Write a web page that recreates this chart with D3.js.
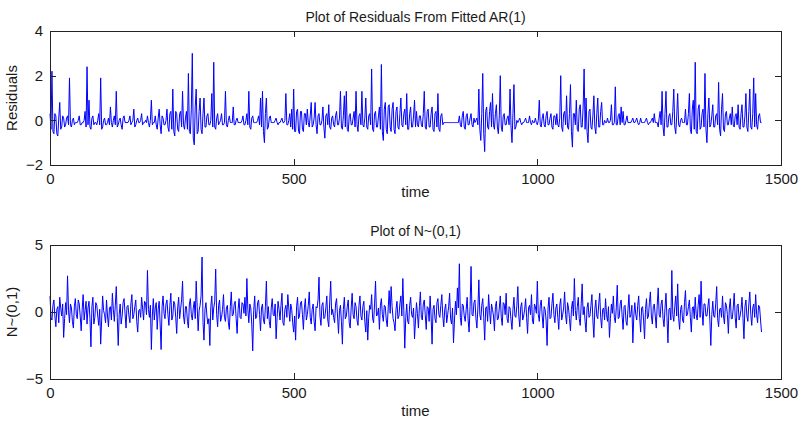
<!DOCTYPE html>
<html>
<head>
    <meta http-equiv="Content-Type" content="text/html; charset=utf-8">
    <title>Residuals From Fitted AR(1)</title>
    <style type="text/css">
        body {
            margin: 0;
            background: #fff;
        }
        text {
            font-family: "Liberation Sans", Arial, sans-serif;
            fill: #1a1a1a;
        }
        .axis path,
        .axis line {
            fill: none;
            stroke: #222;
            shape-rendering: crispEdges;
        }
    </style>
</head>
<body>
<script src="https://cdn.jsdelivr.net/npm/d3@7/dist/d3.min.js"></script>
<script>
    // residuals of the AR(1) fit, one value every 2 time steps
    var residuals = [
        0.3, -0.4, 2.2, -0.5, -0.6, 0.3, 0.2, -0.6, -0.7, 0.1, 0.8, -0.4, -0.3, 0.2, 0.1, -0.3, -0.2, 0.1, 0.2, -0.2,
        1.9, -0.2, -0.3, 0.0, 0.1, -0.2, -0.1, -0.1, -0.1, 0.0, 0.2, -0.2, -0.2, -0.1, -0.1, 0.0, 0.4, -0.3, 2.4, -0.2,
        0.9, -0.3, -0.4, 0.1, 0.2, -0.2, -0.1, -0.1, -0.2, 0.0, 0.3, -0.2, 1.9, -0.4, -0.3, 0.0, 0.1, -0.2, -0.2, -0.1,
        0.1, -0.2, 0.6, -0.1, -0.3, 0.0, 0.2, -0.2, 1.3, -0.3, -0.2, 0.0, 0.1, -0.2, -0.4, 0.1, 0.2, -0.1, -0.1, -0.1,
        -0.1, 0.0, 0.2, -0.2, -0.1, 0.0, 0.5, -0.3, -0.2, 0.0, 0.1, -0.1, -0.1, 0.0, 0.3, -0.2, -0.1, -0.1, 0.0, -0.1,
        0.2, -0.1, -0.3, 0.0, 0.9, -0.2, -0.1, -0.1, 0.2, -0.2, -0.4, 0.1, 0.5, -0.2, -0.6, 0.2, 0.1, -0.2, -0.2, 0.0,
        0.5, -0.3, -0.5, 0.3, 0.4, -0.4, 1.4, -0.5, -0.7, 0.4, 0.3, -0.4, -0.5, 0.3, 0.4, -0.3, 1.3, -0.2, -0.4, 0.1,
        0.4, -0.4, 2.1, -0.5, -0.6, 0.5, 3.0, -0.8, -1.1, 0.6, 1.4, -0.6, -0.5, 0.4, 1.0, -0.4, -0.6, 0.3, 1.0, -0.3,
        -0.3, 0.2, 0.3, -0.2, -0.2, 0.0, 1.2, -0.3, 2.6, -0.3, -0.4, 0.1, 0.3, -0.2, -0.1, 0.0, 0.3, -0.2, -0.2, -0.1,
        1.3, -0.2, -0.3, 0.0, 0.2, -0.1, -0.1, -0.1, 0.6, -0.2, -0.2, 0.0, 0.1, -0.1, -0.1, -0.1, -0.1, 0.0, 0.2, -0.2,
        -0.2, 0.0, 0.3, -0.2, 1.3, -0.3, -0.4, 0.1, 0.2, -0.1, -0.1, -0.1, -0.1, 0.0, 0.2, -0.2, 1.0, -0.3, 1.3, -0.5,
        -1.0, 0.3, 1.0, -0.4, -0.3, 0.1, 0.2, -0.1, -0.1, -0.1, -0.1, 0.0, 0.1, -0.1, -0.2, -0.1, -0.1, 0.0, 0.1, -0.1,
        -0.1, 0.0, 1.2, -0.2, -0.2, 0.0, 0.3, -0.3, 0.5, -0.4, 1.4, -0.5, -0.5, 0.4, 0.5, -0.5, -0.6, 0.4, 0.4, -0.4,
        -0.5, 0.3, 0.3, -0.2, 0.5, -0.1, -0.3, 0.2, 0.8, -0.3, -0.2, 0.1, 0.8, -0.2, -0.6, 0.2, 0.3, -0.2, -0.2, 0.0,
        0.6, -0.3, -0.8, 0.2, 0.3, -0.2, 0.7, -0.3, -0.4, 0.1, 0.2, -0.2, -0.3, 0.2, 0.4, -0.2, -0.2, 0.1, 1.3, -0.3,
        -0.4, 0.2, 1.1, -0.3, 1.3, -0.4, -0.5, 0.2, 0.3, -0.2, -0.2, 0.1, 0.4, -0.3, 1.3, -0.2, -0.5, 0.2, 0.3, -0.2,
        1.3, -0.2, -0.3, 0.1, 1.0, -0.3, -0.4, 0.2, 0.3, -0.2, 2.3, -0.4, -0.5, 0.3, 0.4, -0.3, -0.3, 0.2, 0.6, -0.4,
        2.5, -0.5, -0.9, 0.5, 0.8, -0.4, -0.6, 0.6, 0.7, -0.3, -0.5, 0.5, 0.8, -0.4, -0.6, 0.4, 0.6, -0.3, -0.4, 0.3,
        1.0, -0.2, -0.3, 0.3, 0.5, -0.2, 1.2, -0.4, -0.4, 0.3, 0.6, -0.3, -0.3, 0.2, 0.9, -0.3, 0.4, -0.2, -0.3, 0.2,
        0.2, -0.2, -0.3, 0.3, 1.3, -0.3, -0.4, 0.4, 0.5, -0.3, -0.3, 0.3, 0.6, -0.4, -0.5, 0.3, 0.4, -0.3, 1.2, -0.4,
        -0.5, 0.2, 0.3, -0.2, -0.1, -0.1, -0.1, -0.1, -0.1, -0.1, -0.1, -0.1, -0.1, -0.1, -0.1, -0.1, -0.1, -0.1, -0.1, -0.1,
        0.2, -0.2, -0.3, 0.2, 0.4, -0.3, -0.4, 0.2, 0.3, -0.2, -0.2, 0.1, 0.3, -0.2, -0.3, 0.1, -0.1, 0.0, 0.1, -0.2,
        1.4, -0.4, -0.9, 0.3, 2.1, -0.6, -1.4, 0.4, 0.6, -0.3, -0.4, 0.4, 0.8, -0.3, 1.2, -0.2, -0.4, 0.3, 0.7, -0.3,
        -0.6, 0.2, 2.0, -0.3, -0.5, 0.2, 0.3, -0.2, -0.2, 0.1, 0.2, -0.2, 1.4, -0.3, -1.0, 0.3, 1.6, -0.4, -0.3, 0.0,
        -0.1, 0.0, 0.1, -0.1, -0.2, -0.1, -0.1, 0.0, 0.1, -0.1, -0.1, -0.1, 0.2, -0.1, -0.2, 0.0, -0.1, -0.1, 0.1, -0.1,
        -0.2, 0.0, 0.9, -0.2, -0.3, 0.1, 0.3, -0.2, -0.3, 0.2, 0.4, -0.2, -0.2, 0.1, 0.3, -0.3, -0.4, 0.2, 0.2, -0.2,
        0.3, -0.2, -0.3, 0.1, 2.0, -0.3, -0.5, 0.3, 0.4, -0.2, 1.1, -0.3, -0.4, 0.3, 1.6, -0.5, -1.2, 0.3, 0.3, -0.2,
        0.9, -0.4, -0.5, 0.5, 0.7, -0.3, -0.3, 0.6, 2.3, -0.4, 1.0, -0.5, -1.0, 0.4, 0.5, -0.3, -0.4, 0.2, 1.1, -0.3,
        -0.6, 0.3, 1.0, -0.3, -0.3, 0.4, 0.8, -0.2, -0.2, 0.0, -0.1, -0.1, 0.1, -0.1, -0.1, 0.0, 0.7, -0.2, -0.2, -0.1,
        1.5, -0.2, -0.2, 0.2, 0.3, -0.2, 0.6, -0.1, 0.4, -0.2, -0.2, 0.0, 0.2, -0.1, -0.1, -0.1, -0.1, 0.0, 0.1, -0.1,
        -0.1, 0.0, 0.1, -0.1, -0.2, -0.1, 0.1, -0.1, -0.1, -0.1, -0.1, 0.0, 0.1, -0.1, -0.2, -0.1, -0.1, 0.0, 0.1, -0.1,
        0.3, -0.1, -0.1, -0.1, -0.3, 0.1, 0.4, -0.2, 1.3, -0.3, -0.7, 0.3, 1.3, -0.3, -0.3, 0.2, 0.3, -0.2, -0.2, 0.4,
        1.4, -0.3, -0.6, 0.2, 1.2, -0.2, -0.3, 0.0, 0.1, -0.1, -0.1, -0.1, 0.5, -0.2, -0.2, 0.3, 1.2, -0.4, -0.6, 0.5,
        0.9, -0.4, 2.6, -0.5, -0.6, 0.5, 0.7, -0.4, -0.3, 0.3, 0.5, -0.3, 2.1, -0.4, -1.0, 0.3, 1.0, -0.3, -0.2, 0.2,
        0.7, -0.3, -0.3, 0.2, 0.3, -0.2, 1.7, -0.4, -0.7, 0.5, 1.2, -0.4, -0.5, 0.3, 0.4, -0.2, -0.2, 0.1, 0.3, -0.2,
        0.6, -0.2, -0.3, 0.2, 0.3, -0.2, 0.7, -0.3, -0.4, 0.3, 0.7, -0.3, -0.3, 0.2, 1.2, -0.3, -0.5, 0.4, 1.4, -0.3,
        -0.4, 0.3, 1.9, -0.3, 1.2, -0.2, -0.4, 0.2, 0.3, -0.1, -0.1
    ];

    // N~(0,1) draws on the same time grid
    var normals = [
        1.2, -0.4, -0.6, 0.5, 0.9, -0.3, -1.1, 0.2, 0.4, -0.8, 1.1, 0.3, -0.3, 0.6, -1.9, -0.5, 0.7, -0.2, 2.7, 0.1,
        -0.8, 0.6, 0.3, -0.7, -1.2, 0.4, 1.0, -0.2, -0.5, 0.9, 0.6, -0.3, -1.4, 0.2, 1.3, -0.6, 0.1, 0.8, -0.9, 0.3,
        0.8, -0.5, -2.6, 0.4, 1.1, -0.9, -0.4, 0.7, 0.5, -0.3, -1.0, 0.2, -2.4, -0.6, 1.2, 0.1, -0.2, -0.8, 0.9, -0.3,
        -1.1, 0.3, 0.4, -0.6, 1.4, 0.2, -0.7, 0.5, 1.9, -0.4, -2.5, -0.2, 0.6, -0.9, -0.3, 0.7, 1.0, -0.1, -1.2, 0.4,
        0.5, -0.3, -0.8, 0.6, 1.3, -0.5, -0.2, 0.4, 0.9, -0.7, -1.5, 0.1, 0.2, -0.4, 1.1, 0.3, -0.6, 0.8, 0.7, -0.2,
        3.1, 0.2, -0.4, 0.5, -2.8, -0.3, 1.0, -0.6, 0.3, 0.7, -1.3, 0.2, 0.8, -0.9, -2.8, 0.4, 1.2, -0.1, -0.5, 0.6,
        0.9, -0.2, -1.0, 0.5, 1.4, -0.6, -0.3, 0.8, 0.6, -0.4, -1.6, 0.3, 1.1, -0.5, 0.2, 0.9, 2.3, -0.3, -0.9, 0.4,
        0.4, -0.7, -1.2, 0.6, 1.0, -0.2, -0.6, 0.3, 0.8, -0.5, 2.3, 0.4, -1.4, 0.1, 0.5, 1.2, 4.1, -0.8, -2.1, 0.2,
        0.7, -0.3, -0.9, -0.5, -2.5, 0.4, 1.2, -0.6, 0.3, 0.8, 3.2, -0.2, -1.1, 0.5, 0.9, -0.7, -0.4, 0.2, 1.3, -0.4,
        -0.7, 0.3, 0.5, -0.8, -1.3, 0.4, 1.5, -0.3, -0.2, 0.6, 0.8, -0.5, -1.6, 0.2, 1.0, -0.4, -0.5, 0.7, 0.6, -0.1,
        1.1, -0.3, 2.5, 0.2, -0.8, 0.6, 0.3, -0.9, -2.9, 0.1, 1.2, -0.5, -0.4, 0.7, 0.9, -0.2, -1.4, 0.3, 0.6, -0.6,
        -0.9, 0.4, 2.3, -0.5, 0.4, -0.7, -1.2, 0.3, 1.0, -0.2, -0.3, 0.6, -2.0, -0.4, 0.8, 0.2, -0.6, 0.5, 1.4, -0.8,
        -1.0, 0.2, 0.5, -0.4, 1.3, 0.3, -0.7, 0.6, 0.2, -0.8, -1.5, -0.3, -2.1, 0.4, 1.1, -0.5, -0.3, 0.7, 0.8, -0.2,
        -1.3, 0.3, 1.0, -0.6, -0.2, 0.5, 1.5, -0.4, -0.9, 0.2, 0.6, -0.7, -1.4, 0.4, 0.3, 0.9, 2.6, -0.3, -1.0, 0.5,
        0.7, -0.5, -0.4, 0.3, 1.2, -0.6, -1.1, 0.8, 2.3, -0.2, 0.2, -0.4, -0.8, 0.6, 1.0, -0.3, -1.6, 0.1, 0.5, -0.7,
        -2.4, 0.2, 1.1, -0.5, -0.3, 0.4, 0.9, -0.8, -1.2, 0.3, 1.4, -0.2, -0.5, 0.7, 0.4, -0.6, -1.0, 0.5, 1.2, -0.3,
        -0.6, 0.4, 0.8, -0.7, -1.5, 0.1, -2.1, -0.4, 0.5, 0.2, 1.3, -0.5, -0.8, 0.6, 2.3, -0.3, -0.2, 0.3, -1.3, 0.5,
        1.0, -0.2, -0.7, 0.5, 0.4, -0.6, -1.1, 0.3, 1.6, -0.1, 1.9, 0.4, -0.5, -0.8, -1.4, 0.2, 0.8, -0.5, -0.3, 0.6,
        1.2, -0.3, 2.5, 0.1, -2.7, -0.4, 0.6, -0.7, -0.9, 0.5, 1.1, -0.2, -0.4, 0.3, -2.0, -0.6, 0.7, -0.1, -1.2, 0.4,
        1.5, -0.4, -0.6, 0.6, 0.9, -0.2, -1.3, 0.4, 0.3, -0.7, 1.2, -0.3, -2.4, 0.2, 0.5, -0.5, -0.8, 0.7, 1.0, -0.2,
        -0.4, 0.5, 1.3, -0.3, -1.1, 0.2, 0.6, -0.8, -0.2, 0.4, 1.4, -0.5, -0.9, 0.3, -2.3, -0.6, 0.8, -0.2, 1.8, 0.3,
        3.6, -0.4, -1.0, 0.6, 0.5, -0.3, -0.7, 0.2, 1.1, -0.6, -1.5, 0.4, 3.4, -0.2, -0.3, 0.7, 0.9, -0.5, -1.2, 0.3,
        2.4, -0.2, -0.6, 0.5, 1.0, -0.4, -2.1, 0.3, 0.4, -0.7, 1.3, 0.1, -0.9, 0.6, 0.2, -0.3, -1.4, 0.4, 0.8, -0.6,
        -0.5, 0.3, 1.2, -0.4, -1.0, 0.7, 0.6, -0.2, 1.4, -0.5, -0.8, 0.4, 0.3, -0.6, -1.3, 0.2, 1.1, -0.3, -0.4, 0.5,
        1.9, -0.3, -1.1, 0.4, 0.7, -0.6, -0.3, 0.2, 1.0, -0.4, -1.6, 0.3, 0.5, -0.2, 1.3, -0.7, -0.9, 0.6, 0.4, -0.1,
        2.3, -0.2, -0.7, 0.5, 0.9, -0.3, -1.2, 0.4, 0.2, -0.6, -2.5, 0.3, 1.1, -0.5, -0.4, 0.6, 1.4, -0.2, -0.8, 0.3,
        0.6, -0.4, -1.3, 0.5, 1.0, -0.6, -0.2, 0.3, 1.5, -0.2, -0.9, 0.7, 0.3, -0.5, -1.4, 0.2, 0.8, -0.3, 2.5, 0.1,
        -0.6, 0.4, 1.1, -0.5, -1.0, 0.6, 2.1, -0.2, 0.4, -0.7, -1.5, 0.3, 0.7, -0.4, -0.3, 0.5, 1.3, -0.6, -1.9, 0.2,
        0.9, -0.3, -0.5, 0.6, 1.4, -0.4, -1.2, 0.2, 0.3, -0.6, 1.0, -0.2, -0.7, 0.4, -1.9, -0.5, 0.6, -0.1, 1.2, -0.4,
        -0.8, 0.3, 2.0, -0.5, -0.4, 0.6, 0.9, -0.3, -1.3, 0.4, 0.5, -0.7, -1.0, 0.2, 1.3, -0.4, -0.2, 0.5, -2.3, -0.3,
        0.7, -0.2, -0.6, 0.5, 1.2, -0.4, -1.5, 0.3, 0.4, -0.6, -2.0, 0.2, 1.0, -0.5, -0.3, 0.7, 1.5, -0.3, -0.9, 0.4,
        0.6, -0.3, -1.2, 0.5, 1.8, -0.2, -0.4, 0.6, 0.9, -0.5, -1.1, 0.3, 1.4, -0.4, -2.3, 0.2, 0.3, -0.6, 3.1, -0.2,
        -0.7, 0.4, 1.2, -0.3, 2.1, -0.5, -1.3, 0.2, 0.5, -0.6, -0.8, 0.7, 1.6, -0.3, -0.2, 0.4, 0.9, -0.4, -1.5, 0.3,
        0.4, -0.5, 1.1, -0.2, -0.6, 0.5, 1.3, -0.4, 2.3, 0.1, -1.0, 0.6, 0.6, -0.3, -0.3, 0.4, 1.0, -0.6, -2.5, -0.2,
        0.8, -0.3, -0.4, 0.6, 1.9, -0.5, -1.1, 0.2, 0.3, -0.4, 1.2, -0.3, -0.9, 0.7, 0.5, -0.2, -1.6, 0.3, 1.0, -0.5,
        -0.5, 0.3, 1.4, -0.4, -1.2, 0.5, 0.6, -0.6, -0.3, 0.2, 1.1, -0.5, -2.0, 0.4, 0.9, -0.3, -0.7, 0.6, 1.5, -0.2,
        -1.0, 0.3, 0.6, -0.4, 1.3, -0.2, -0.8, 0.5, 0.4, -0.6, -1.5
    ];

    var timeStep = 2;
    var xTicks = [0, 500, 1000, 1500];
    var resTicks = [-2, 0, 2, 4];
    var normTicks = [-5, 0, 5];

    var width = 800,
        height = 425,
        left = 50,
        right = 781,
        plotH = 134;

    var svg = d3.select("body").append("svg")
        .attr("width", width)
        .attr("height", height);

    function drawPanel(top, values, yDomain, yTicks, title, ylabel, xlabelGap) {
        var bottom = top + plotH;
        var x = d3.scaleLinear().domain([0, 1500]).range([left, right]);
        var y = d3.scaleLinear().domain(yDomain).range([bottom, top]);

        var g = svg.append("g");

        var line = d3.line()
            .x(function (d, i) { return x(i * timeStep); })
            .y(function (d) { return y(d); });

        g.append("path")
            .datum(values)
            .attr("fill", "none")
            .attr("stroke", "#0000ff")
            .attr("stroke-width", 1)
            .attr("d", line);

        // matlab style box: ticks on all four sides, pointing in
        g.append("g")
            .attr("class", "axis")
            .attr("transform", "translate(0," + bottom + ")")
            .call(d3.axisBottom(x).tickValues(xTicks).tickFormat(d3.format("d"))
                .tickSizeInner(-6).tickSizeOuter(0).tickPadding(8))
            .selectAll("text").style("font-size", "15px");
        g.append("g")
            .attr("class", "axis")
            .attr("transform", "translate(0," + top + ")")
            .call(d3.axisTop(x).tickValues(xTicks).tickSizeInner(-6).tickSizeOuter(0).tickFormat(""));
        g.append("g")
            .attr("class", "axis")
            .attr("transform", "translate(" + left + ",0)")
            .call(d3.axisLeft(y).tickValues(yTicks).tickFormat(d3.format("d"))
                .tickSizeInner(-6).tickSizeOuter(0).tickPadding(7))
            .selectAll("text").style("font-size", "15px");
        g.append("g")
            .attr("class", "axis")
            .attr("transform", "translate(" + right + ",0)")
            .call(d3.axisRight(y).tickValues(yTicks).tickSizeInner(-6).tickSizeOuter(0).tickFormat(""));

        g.append("text")
            .attr("x", (left + right) / 2)
            .attr("y", top - 9)
            .attr("text-anchor", "middle")
            .style("font-size", "14px")
            .text(title);

        g.append("text")
            .attr("x", (left + right) / 2)
            .attr("y", bottom + xlabelGap)
            .attr("text-anchor", "middle")
            .style("font-size", "15px")
            .text("time");

        g.append("text")
            .attr("transform", "translate(17," + (top + bottom) / 2 + ") rotate(-90)")
            .attr("text-anchor", "middle")
            .style("font-size", "15px")
            .text(ylabel);
    }

    drawPanel(31, residuals, [-2, 4], resTicks, "Plot of Residuals From Fitted AR(1)", "Residuals", 32);
    drawPanel(245, normals, [-5, 5], normTicks, "Plot of N~(0,1)", "N~(0,1)", 37);
</script>
</body>
</html>
